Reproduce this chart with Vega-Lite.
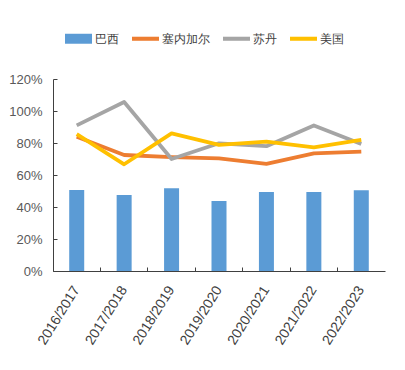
{
  "$schema": "https://vega.github.io/schema/vega-lite/v6.json",
  "autosize": "none",
  "width": 332,
  "height": 192,
  "padding": {"left": 53, "top": 79, "right": 20, "bottom": 99},
  "background": "white",
  "config": {
    "view": {"stroke": null},
    "font": "Liberation Sans"
  },
  "datasets": {
    "bars": [
      {"year": "2016/2017", "series": "巴西", "value": 0.506},
      {"year": "2017/2018", "series": "巴西", "value": 0.475},
      {"year": "2018/2019", "series": "巴西", "value": 0.517},
      {"year": "2019/2020", "series": "巴西", "value": 0.437},
      {"year": "2020/2021", "series": "巴西", "value": 0.494},
      {"year": "2021/2022", "series": "巴西", "value": 0.494},
      {"year": "2022/2023", "series": "巴西", "value": 0.504}
    ],
    "lines": [
      {"year": "2016/2017", "series": "塞内加尔", "value": 0.839},
      {"year": "2017/2018", "series": "塞内加尔", "value": 0.725},
      {"year": "2018/2019", "series": "塞内加尔", "value": 0.712},
      {"year": "2019/2020", "series": "塞内加尔", "value": 0.704},
      {"year": "2020/2021", "series": "塞内加尔", "value": 0.669},
      {"year": "2021/2022", "series": "塞内加尔", "value": 0.735},
      {"year": "2022/2023", "series": "塞内加尔", "value": 0.746},
      {"year": "2016/2017", "series": "苏丹", "value": 0.91},
      {"year": "2017/2018", "series": "苏丹", "value": 1.056},
      {"year": "2018/2019", "series": "苏丹", "value": 0.70},
      {"year": "2019/2020", "series": "苏丹", "value": 0.798},
      {"year": "2020/2021", "series": "苏丹", "value": 0.78},
      {"year": "2021/2022", "series": "苏丹", "value": 0.91},
      {"year": "2022/2023", "series": "苏丹", "value": 0.794},
      {"year": "2016/2017", "series": "美国", "value": 0.856},
      {"year": "2017/2018", "series": "美国", "value": 0.667},
      {"year": "2018/2019", "series": "美国", "value": 0.86},
      {"year": "2019/2020", "series": "美国", "value": 0.788},
      {"year": "2020/2021", "series": "美国", "value": 0.808},
      {"year": "2021/2022", "series": "美国", "value": 0.773},
      {"year": "2022/2023", "series": "美国", "value": 0.819}
    ]
  },
  "encoding": {
    "x": {
      "field": "year", "type": "nominal", "sort": null,
      "scale": {"paddingInner": 0, "paddingOuter": 0},
      "axis": {
        "title": null, "labelAngle": -58, "labelFontSize": 14, "labelColor": "#404040",
        "domainColor": "#404040", "tickColor": "#404040", "tickSize": -4, "bandPosition": 0,
        "labelPadding": 20, "labelAlign": "right", "labelBaseline": "middle"
      }
    },
    "y": {
      "field": "value", "type": "quantitative",
      "scale": {"domain": [0, 1.2]},
      "axis": {
        "title": null, "format": ".0%", "values": [0, 0.2, 0.4, 0.6, 0.8, 1.0, 1.2],
        "grid": false, "labelFontSize": 13, "labelColor": "#595959",
        "domainColor": "#404040", "tickColor": "#404040", "tickSize": -4, "labelPadding": 15
      }
    },
    "color": {
      "field": "series", "type": "nominal",
      "scale": {"domain": ["巴西", "塞内加尔", "苏丹", "美国"], "range": ["#5B9BD5", "#ED7D31", "#A5A5A5", "#FFC000"]},
      "legend": {
        "title": null, "orient": "none", "direction": "horizontal",
        "legendX": 12, "legendY": -54,
        "labelFontSize": 12, "labelColor": "#404040", "labelOffset": 3,
        "columnPadding": 13, "symbolSize": 729, "symbolType": "square",
        "encode": {
          "symbols": {
            "update": {
              "shape": {"signal": "datum.value === '巴西' ? 'M-1,-0.37H1V0.37H-1Z' : 'M-1,-0.15H1V0.15H-1Z'"},
              "fill": {"signal": "scale('color', datum.value)"},
              "fillOpacity": {"value": 1},
              "strokeWidth": {"value": 0}
            }
          }
        }
      }
    }
  },
  "layer": [
    {"data": {"name": "bars"}, "mark": {"type": "bar", "size": 15}},
    {"data": {"name": "lines"}, "mark": {"type": "line", "strokeWidth": 3.8, "strokeJoin": "round"}}
  ]
}
